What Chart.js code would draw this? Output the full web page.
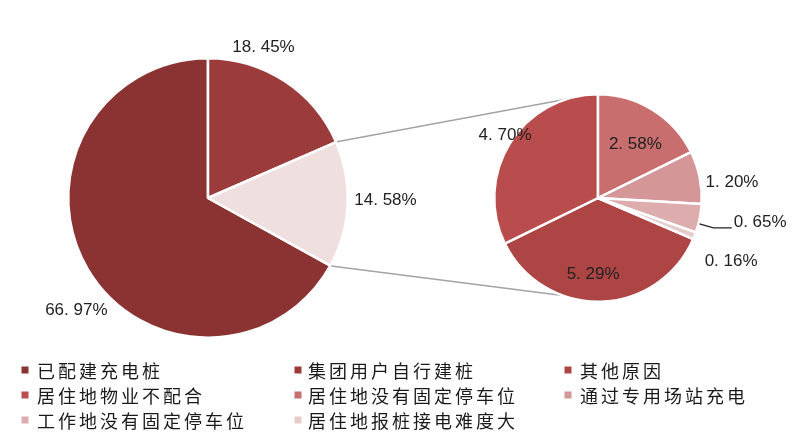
<!DOCTYPE html>
<html>
<head>
<meta charset="utf-8">
<script src="https://cdn.jsdelivr.net/npm/chart.js@4/dist/chart.umd.min.js"></script>
<style>
  html, body { margin: 0; padding: 0; background: #fff; }
  #wrap { position: relative; width: 800px; height: 440px; overflow: hidden; }
  #wrap canvas { position: absolute; left: 0; top: 0; }
  .legend { position: absolute; left: 0; top: 0; width: 800px; height: 440px; pointer-events: none;
            font-family: "Noto Sans CJK SC", sans-serif; font-size: 18px; color: #1a1a1a; letter-spacing: 3px; }
  .legend .item { position: absolute; white-space: nowrap; line-height: 22px; transform: translateY(-50%); }
  .legend .mark { position: absolute; width: 7px; height: 7px; transform: translate(-50%, -50%); }
</style>
</head>
<body>
<div id="wrap">
  <canvas id="main" width="800" height="440"></canvas>
  <canvas id="sub" width="800" height="440"></canvas>
  <div class="legend" id="legend"></div>
</div>
<script>
// --- data ---
const mainLabels = ['已配建充电桩', '集团用户自行建桩', '其他'];
const mainValues = [66.97, 18.45, 14.58];
const mainColors = ['#8B3232', '#9C3B3B', '#F0DFDF'];

const subLabels = ['其他原因', '居住地物业不配合', '居住地没有固定停车位', '通过专用场站充电', '工作地没有固定停车位', '居住地报桩接电难度大'];
const subValues = [5.29, 4.70, 2.58, 1.20, 0.65, 0.16];
const subColors = ['#AE4545', '#B94C4C', '#C86E6E', '#D49696', '#DDADAD', '#E6CBCB'];

// legend = first two main slices + the breakdown
const legendLabels = mainLabels.slice(0, 2).concat(subLabels);
const legendColors = mainColors.slice(0, 2).concat(subColors);

// label placement tweaks (radius factor / angle shift in degrees), per slice
const mainLabelPos = [{ r: 1.24, shift: -10 }, { r: 1.15, shift: -13 }, { r: 1.27, shift: -2 }];
const subLabelPos = [
  { r: 0.74, shift: 5 }, { r: 1.08, shift: 2 }, { r: 0.63, shift: 3 },
  { r: 1.3, shift: 5 }, { r: 1.58, shift: -3 }, { r: 1.42, shift: 4 }
];

const fmt = v => v.toFixed(2).replace('.', '. ') + '%';
const sum = a => a.reduce((s, v) => s + v, 0);

function labelPlugin(pos, leaders) {
  return {
    id: 'sliceLabels',
    afterDatasetsDraw(chart) {
      const ctx = chart.ctx;
      const meta = chart.getDatasetMeta(0);
      const values = chart.data.datasets[0].data;
      ctx.save();
      ctx.font = '17px "Liberation Sans", Arial, sans-serif';
      ctx.fillStyle = '#222';
      ctx.textAlign = 'center';
      ctx.textBaseline = 'middle';
      meta.data.forEach((arc, i) => {
        const p = arc.getProps(['x', 'y', 'startAngle', 'endAngle', 'outerRadius'], true);
        const mid = (p.startAngle + p.endAngle) / 2 + pos[i].shift * Math.PI / 180;
        const d = p.outerRadius * pos[i].r;
        const lx = p.x + Math.cos(mid) * d;
        const ly = p.y + Math.sin(mid) * d;
        const text = fmt(values[i]);
        ctx.fillText(text, lx, ly);
        if (leaders && leaders.includes(i)) {
          // leader line from the thin slice out to its label
          const m0 = (p.startAngle + p.endAngle) / 2 + 3 * Math.PI / 180;
          const w = ctx.measureText(text).width;
          const x0 = p.x + Math.cos(m0) * (p.outerRadius + 1);
          const y0 = p.y + Math.sin(m0) * (p.outerRadius + 1);
          ctx.strokeStyle = '#222';
          ctx.lineWidth = 1.3;
          ctx.beginPath();
          ctx.moveTo(x0, y0);
          ctx.lineTo(x0 + 14, ly + 6);
          ctx.lineTo(lx - w / 2 - 2, ly + 6);
          ctx.stroke();
        }
      });
      ctx.restore();
    }
  };
}

const baseOptions = {
  responsive: false,
  animation: false,
  plugins: { legend: { display: false }, tooltip: { enabled: false } }
};

// main pie, first slice ends at 12 o'clock
const mainChart = new Chart(document.getElementById('main'), {
  type: 'pie',
  data: {
    labels: mainLabels,
    datasets: [{ data: mainValues, backgroundColor: mainColors, borderColor: '#fff', borderWidth: 2.5 }]
  },
  options: Object.assign({}, baseOptions, {
    rotation: 360 * (1 - mainValues[0] / sum(mainValues)),
    layout: { padding: { left: 67, right: 451, top: 57, bottom: 101 } }
  }),
  plugins: [labelPlugin(mainLabelPos)]
});

// connector lines from the "other" slice to the breakdown pie
const connectors = {
  id: 'connectors',
  beforeDatasetsDraw(chart) {
    const ctx = chart.ctx;
    const other = mainChart.getDatasetMeta(0).data[2].getProps(['x', 'y', 'startAngle', 'endAngle', 'outerRadius'], true);
    const sub = chart.getDatasetMeta(0).data[0].getProps(['x', 'y', 'outerRadius'], true);
    const a1 = -108 * Math.PI / 180, a2 = 110 * Math.PI / 180;
    ctx.save();
    ctx.strokeStyle = '#A3A3A3';
    ctx.lineWidth = 1.5;
    ctx.beginPath();
    ctx.moveTo(other.x + Math.cos(other.startAngle) * (other.outerRadius + 1), other.y + Math.sin(other.startAngle) * (other.outerRadius + 1));
    ctx.lineTo(sub.x + Math.cos(a1) * sub.outerRadius, sub.y + Math.sin(a1) * sub.outerRadius);
    ctx.moveTo(other.x + Math.cos(other.endAngle) * (other.outerRadius + 1), other.y + Math.sin(other.endAngle) * (other.outerRadius + 1));
    ctx.lineTo(sub.x + Math.cos(a2) * sub.outerRadius, sub.y + Math.sin(a2) * sub.outerRadius);
    ctx.stroke();
    ctx.restore();
  }
};

// breakdown pie, first two slices end at 12 o'clock
const subChart = new Chart(document.getElementById('sub'), {
  type: 'pie',
  data: {
    labels: subLabels,
    datasets: [{ data: subValues, backgroundColor: subColors, borderColor: '#fff', borderWidth: 2.5 }]
  },
  options: Object.assign({}, baseOptions, {
    rotation: 360 * (1 - (subValues[0] + subValues[1]) / sum(subValues)),
    layout: { padding: { left: 493, right: 97, top: 93, bottom: 137 } }
  }),
  plugins: [connectors, labelPlugin(subLabelPos, [4])]
});

// legend grid, 3 columns
const legendCols = [{ mark: 25, text: 37 }, { mark: 298, text: 308 }, { mark: 568, text: 580 }];
const legendRows = [370, 395, 420];
const legendEl = document.getElementById('legend');
legendLabels.forEach((name, i) => {
  const col = legendCols[i % 3], y = legendRows[Math.floor(i / 3)];
  const m = document.createElement('div');
  m.className = 'mark';
  m.style.left = col.mark + 'px';
  m.style.top = y + 'px';
  m.style.background = legendColors[i];
  legendEl.appendChild(m);
  const t = document.createElement('div');
  t.className = 'item';
  t.style.left = col.text + 'px';
  t.style.top = y + 'px';
  t.textContent = name;
  legendEl.appendChild(t);
});
</script>
</body>
</html>
